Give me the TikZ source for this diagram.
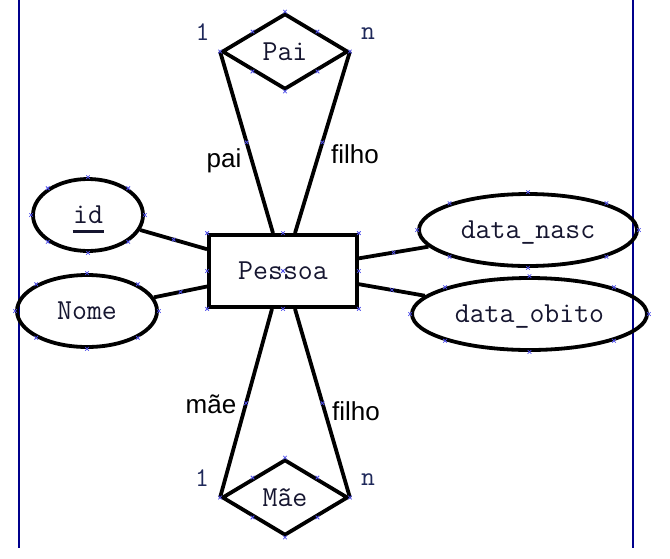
\documentclass[tikz,border=0pt]{standalone}
\usepackage{fontspec}
\newfontfamily\lblfont{Liberation Sans}
\usetikzlibrary{shapes.geometric}
\definecolor{txtc}{RGB}{22,22,48}
\definecolor{numc}{RGB}{30,40,90}
\definecolor{handc}{RGB}{80,80,235}
\definecolor{framec}{RGB}{0,0,140}
\newcommand\hmark[1]{\draw[handle] (#1) +(-1.8,-1.8) -- +(1.8,1.8) (#1) +(-1.8,1.8) -- +(1.8,-1.8);}
\begin{document}
\begin{tikzpicture}[x=1pt,y=-1pt,
  shapeline/.style={draw=black,line width=3.8pt},
  mono/.style={font=\ttfamily\fontsize{29}{29}\selectfont,text=txtc,text height=17pt,text depth=0pt,inner sep=0pt},
  attr/.style={ellipse,shapeline,mono,minimum height=72pt},
  ent/.style={rectangle,shapeline,mono,minimum width=148pt,minimum height=72pt},
  rel/.style={diamond,shapeline,mono,minimum width=126pt,minimum height=76pt},
  conn/.style={line width=3.8pt},
  role/.style={font=\lblfont\fontsize{26}{26}\selectfont,text=black,anchor=base,inner sep=0pt},
  card/.style={font=\ttfamily\fontsize{27}{27}\selectfont,text=numc,anchor=base,inner sep=0pt},
  handle/.style={draw=handc,line width=0.8pt},
  frame/.style={draw=framec,line width=1.2pt}]
\useasboundingbox (0,0) rectangle (670,558);
% frame lines
\coordinate (fl1) at (19,0); \coordinate (fl2) at (19,548);
\coordinate (fr1) at (633,0); \coordinate (fr2) at (633,548);
\draw[frame] (fl1) -- (fl2);
\draw[frame] (fr1) -- (fr2);
% nodes
\node[ent] (pessoa) at (283,271) {Pessoa};
\node[rel] (pai) at (285,51.5) {Pai};
\node[rel] (mae) at (285,497.5) {Mãe};
\node[attr,minimum width=110pt] (id) at (88,215) {\rlap{\smash{\hspace{-0.5pt}\rule[-9.5pt]{31pt}{3pt}}}id};
\node[attr,minimum width=140pt] (nome) at (87,311) {Nome};
\node[attr,minimum width=218pt] (nasc) at (528,230) {data\_nasc};
\node[attr,minimum width=235pt] (obito) at (529.5,314) {data\_obito};
% connectors
\draw[conn] (id) -- coordinate (m1) (pessoa);
\draw[conn] (nome) -- coordinate (m2) (pessoa);
\draw[conn] (nasc) -- coordinate (m3) (pessoa);
\draw[conn] (obito) -- coordinate (m4) (pessoa);
\draw[conn] (pai.west) -- coordinate (m5) ([xshift=-10pt]pessoa.north);
\draw[conn] (pai.east) -- coordinate (m6) ([xshift=12pt]pessoa.north);
\draw[conn] ([xshift=-11pt]pessoa.south) -- coordinate (m7) (mae.west);
\draw[conn] ([xshift=12pt]pessoa.south) -- coordinate (m8) (mae.east);
% labels
\node[role] (lpai) at (224,167) {pai};
\node[role] (lfilho1) at (355,163) {filho};
\node[role] (lmae) at (211,413) {mãe};
\node[role] (lfilho2) at (356,420) {filho};
\node[card] (c1) at (202.5,40) {1};
\node[card] (c2) at (368,39) {n};
\node[card] (c3) at (202,486) {1};
\node[card] (c4) at (368,485) {n};
% selection handles
\foreach \n in {id,nome,nasc,obito}{
  \foreach \a in {north,north east,east,south east,south,south west,west,north west}{\hmark{\n.\a}}}
\foreach \n in {pai,mae}{
  \foreach \a in {north,north east,east,south east,south,south west,west,north west}{\hmark{\n.\a}}}
\foreach \a in {north,north east,east,south east,south,south west,west,north west,center}{\hmark{pessoa.\a}}
\foreach \m in {m1,m2,m3,m4,m5,m6,m7,m8}{\hmark{\m}}
\end{tikzpicture}
\end{document}
